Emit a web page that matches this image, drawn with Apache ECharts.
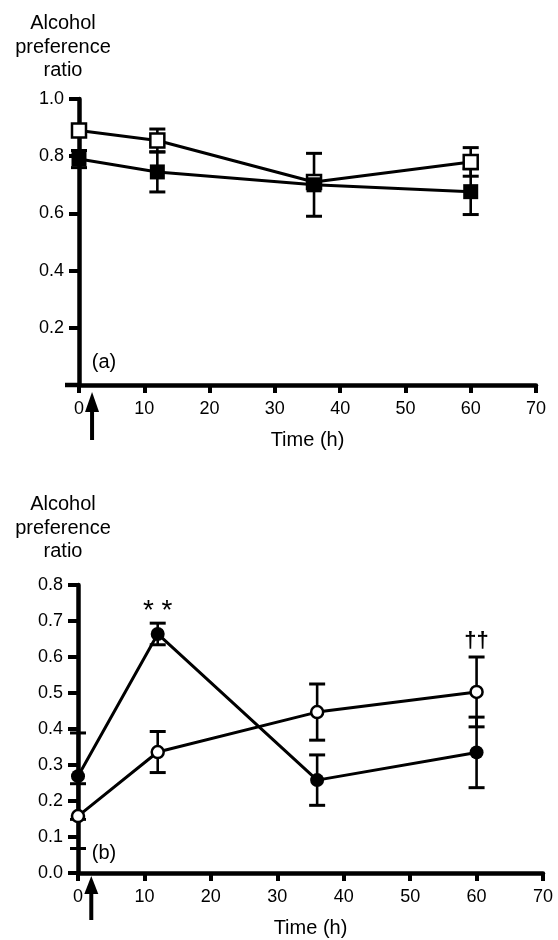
<!DOCTYPE html>
<html><head><meta charset="utf-8">
<script src="https://cdn.jsdelivr.net/npm/echarts@6/dist/echarts.min.js"></script>
<style>html,body{margin:0;padding:0;background:#fff}#c{width:558px;height:940px}</style>
</head><body><div id="c"></div><script>
// ---- data ----
const hours = [0, 12, 36, 60];
// panel (a): open squares / filled squares
const aOpenMean   = [0.89, 0.855, 0.71, 0.78];
const aOpenSem    = [0.0, 0.04, 0.0, 0.05];
const aFilledMean = [0.79, 0.745, 0.70, 0.676];
const aFilledSem  = [0.03, 0.07, 0.11, 0.08];
// panel (b): open circles / filled circles
const bOpenMean   = [0.158, 0.336, 0.447, 0.503];
const bOpenSem    = [0.09, 0.057, 0.078, 0.097];
const bFilledMean = [0.269, 0.664, 0.258, 0.335];
const bFilledSem  = [0.12, 0.03, 0.07, 0.098];
// significance marks in panel (b)
const bMarkHours  = [12, 60];
const bMarkValues = [0.745, 0.647];
const bMarkTexts  = ['* *', '\u2020\u2020'];
// axes
const xMin = 0, xMax = 70, xStep = 10;
const aYMin = 0, aYMax = 1.0, aYStep = 0.2;
const bYMin = 0, bYMax = 0.8, bYStep = 0.1;
const treatmentHour = 2;
const yTitle = 'Alcohol\npreference\nratio';
const xTitle = 'Time (h)';
const panelLabels = ['(a)', '(b)'];

// ---- chart ----
const FONT = '"Liberation Sans", Arial, Helvetica, sans-serif';
const chart = echarts.init(document.getElementById('c'), null, {renderer: 'canvas'});

function errData(mean, sem) { return hours.map((h, i) => [h, mean[i] - sem[i], mean[i] + sem[i], sem[i]]); }
function errRender(params, api) {
  if (api.value(3) === 0) return null;
  const x = api.value(0);
  const lo = api.coord([x, api.value(1)]), hi = api.coord([x, api.value(2)]);
  const w = 8;
  return {type: 'group', children: [
    {type: 'line', shape: {x1: lo[0], y1: lo[1], x2: hi[0], y2: hi[1]}, style: {stroke: '#000', lineWidth: 2.6}},
    {type: 'line', shape: {x1: lo[0] - w, y1: lo[1], x2: lo[0] + w, y2: lo[1]}, style: {stroke: '#000', lineWidth: 3}},
    {type: 'line', shape: {x1: hi[0] - w, y1: hi[1], x2: hi[0] + w, y2: hi[1]}, style: {stroke: '#000', lineWidth: 3}}
  ]};
}
function arrowRenderer(tip, base, end, ext) {
  return function (params, api) {
    const p = api.coord([api.value(0), 0]);
    const o = api.coord([0, 0]);
    const x = p[0], y0 = p[1];
    const ch = [
      {type: 'polygon', shape: {points: [[x, y0 + tip], [x - 7, y0 + base], [x + 7, y0 + base]]}, style: {fill: '#000'}},
      {type: 'line', shape: {x1: x, y1: y0 + base - 2, x2: x, y2: y0 + end}, style: {stroke: '#000', lineWidth: 4}}
    ];
    if (ext) ch.push({type: 'line', shape: {x1: o[0] - ext, y1: o[1], x2: o[0], y2: o[1]}, style: {stroke: '#000', lineWidth: 4.5}});
    return {type: 'group', children: ch};
  };
}
function markRender(params, api) {
  const p = api.coord([api.value(0), api.value(1)]);
  const t = bMarkTexts[params.dataIndex];
  const isStar = t.indexOf('*') >= 0;
  return {type: 'text', x: p[0], y: p[1] + (isStar ? 6 : 1), style: {
    text: t, fill: '#000', align: 'center', verticalAlign: 'middle',
    font: (isStar ? 'normal 28px ' : 'bold 22px ') + FONT
  }};
}

const axisLineStyle = {color: '#000', width: 4.5};
function xAx(gi) {
  return {
    gridIndex: gi, type: 'value', min: xMin, max: xMax, interval: xStep,
    name: xTitle, nameLocation: 'middle', nameGap: 45,
    nameTextStyle: {color: '#000', fontSize: 20, fontFamily: FONT},
    axisLine: {show: true, onZero: false, lineStyle: axisLineStyle},
    axisTick: {show: true, length: 8, lineStyle: {color: '#000', width: 4}},
    axisLabel: {color: '#000', fontSize: 18, fontFamily: FONT, margin: 15},
    splitLine: {show: false}
  };
}
function yAx(gi, min, max, step, hideZero) {
  return {
    gridIndex: gi, type: 'value', min: min, max: max, interval: step,
    axisLine: {show: true, onZero: false, lineStyle: axisLineStyle},
    axisTick: {show: true, length: 10, lineStyle: {color: '#000', width: 4}},
    axisLabel: {color: '#000', fontSize: 18, fontFamily: FONT, margin: 15,
      formatter: v => (hideZero && v === 0) ? '' : v.toFixed(1)},
    splitLine: {show: false}
  };
}
function lineSeries(xi, data, symbol, size, filled, z) {
  return {
    type: 'line', xAxisIndex: xi, yAxisIndex: xi, z: z,
    data: hours.map((h, i) => [h, data[i]]),
    symbol: symbol, symbolSize: size, showSymbol: true,
    lineStyle: {color: '#000', width: 3},
    itemStyle: {color: filled ? '#000' : '#fff', borderColor: '#000', borderWidth: filled ? 0 : 2.5, opacity: 1},
    emphasis: {disabled: true}, animation: false
  };
}
function errSeries(xi, mean, sem, z) {
  return {type: 'custom', xAxisIndex: xi, yAxisIndex: xi, z: z, renderItem: errRender,
    data: errData(mean, sem), encode: {x: 0, y: [1, 2]}, animation: false, silent: true};
}

const option = {
  backgroundColor: '#fff',
  animation: false,
  grid: [
    {left: 79, top: 99, width: 457, height: 286},
    {left: 78, top: 585, width: 465, height: 288}
  ],
  xAxis: [xAx(0), xAx(1)],
  yAxis: [yAx(0, aYMin, aYMax, aYStep, true), yAx(1, bYMin, bYMax, bYStep, false)],
  graphic: [
    {type: 'text', x: 63, y: 47, style: {text: yTitle, fill: '#000', align: 'center', verticalAlign: 'middle', lineHeight: 23.5, font: '20px ' + FONT}},
    {type: 'text', x: 63, y: 528, style: {text: yTitle, fill: '#000', align: 'center', verticalAlign: 'middle', lineHeight: 23.5, font: '20px ' + FONT}},
    {type: 'text', x: 104, y: 362, style: {text: panelLabels[0], fill: '#000', align: 'center', verticalAlign: 'middle', font: '20px ' + FONT}},
    {type: 'text', x: 104, y: 853, style: {text: panelLabels[1], fill: '#000', align: 'center', verticalAlign: 'middle', font: '20px ' + FONT}}
  ],
  series: [
    errSeries(0, aOpenMean, aOpenSem, 1),
    errSeries(0, aFilledMean, aFilledSem, 1),
    lineSeries(0, aOpenMean, 'rect', 14, false, 2),
    lineSeries(0, aFilledMean, 'rect', 15, true, 3),
    errSeries(1, bOpenMean, bOpenSem, 1),
    errSeries(1, bFilledMean, bFilledSem, 1),
    lineSeries(1, bOpenMean, 'circle', 12, false, 2),
    lineSeries(1, bFilledMean, 'circle', 14, true, 3),
    {type: 'custom', xAxisIndex: 1, yAxisIndex: 1, renderItem: markRender, z: 4,
      data: bMarkHours.map((h, i) => [h, bMarkValues[i]]), silent: true},
    {type: 'custom', xAxisIndex: 0, yAxisIndex: 0, renderItem: arrowRenderer(7, 27, 55, 14), z: 4,
      data: [[treatmentHour]], encode: {x: 0}, silent: true, clip: false},
    {type: 'custom', xAxisIndex: 1, yAxisIndex: 1, renderItem: arrowRenderer(3, 21, 47, 0), z: 4,
      data: [[treatmentHour]], encode: {x: 0}, silent: true, clip: false}
  ]
};
chart.setOption(option);
</script></body></html>
